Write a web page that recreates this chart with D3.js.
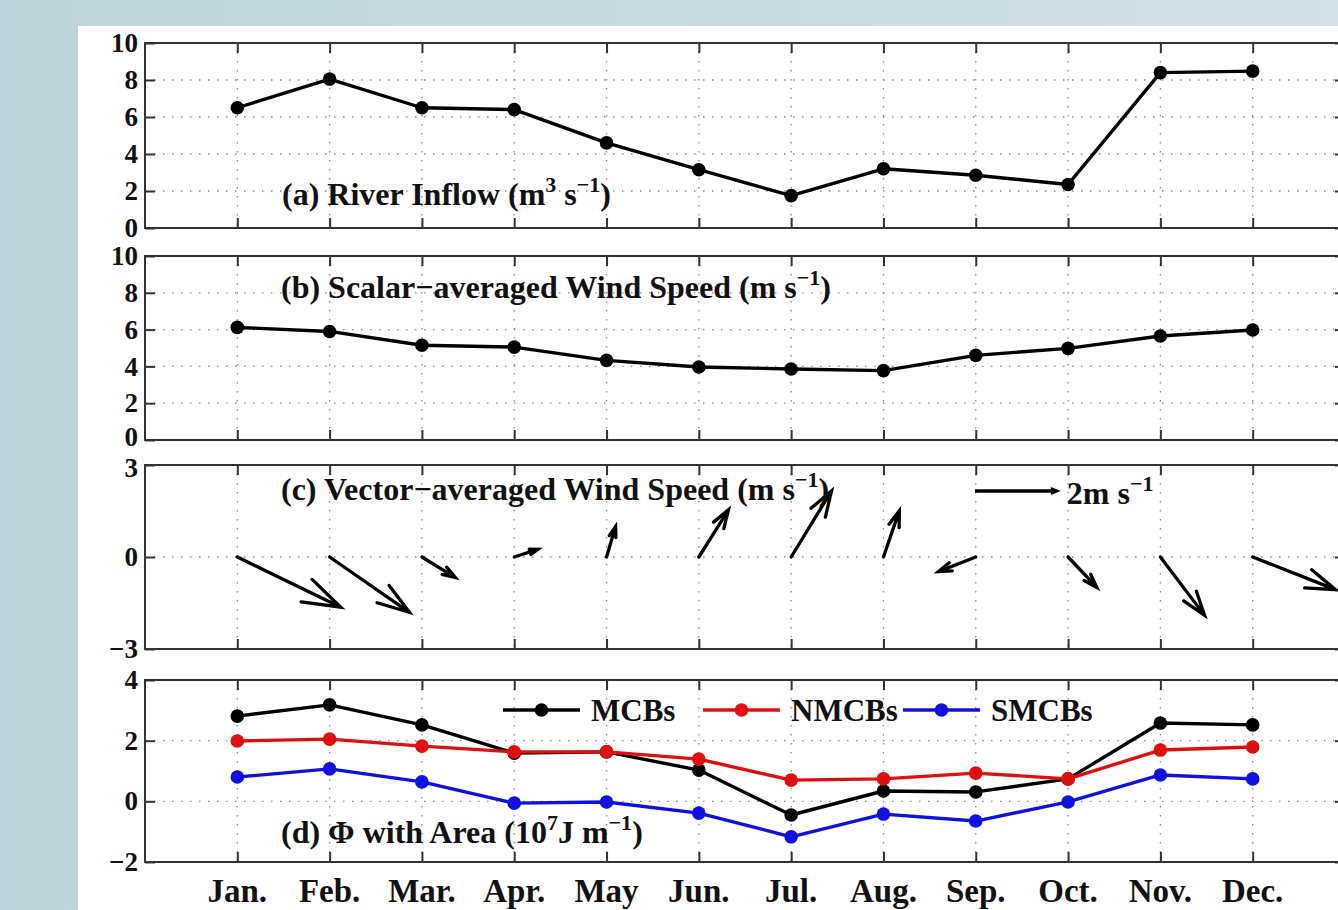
<!DOCTYPE html>
<html><head><meta charset="utf-8">
<script src="https://cdn.jsdelivr.net/npm/d3@7"></script>
<style>
html,body{margin:0;padding:0;overflow:hidden;}
svg{display:block;}
text{font-family:"Liberation Serif","Times New Roman",serif;font-weight:bold;fill:#111;}
</style></head>
<body>
<svg id="chart" width="1338" height="910"></svg>
<script>
// ---------------- data ----------------
const months = ["Jan.","Feb.","Mar.","Apr.","May","Jun.","Jul.","Aug.","Sep.","Oct.","Nov.","Dec."];
const riverInflow = [6.5, 8.05, 6.5, 6.4, 4.6, 3.15, 1.75, 3.2, 2.85, 2.35, 8.4, 8.48];
const scalarWind = [6.12, 5.9, 5.15, 5.05, 4.33, 3.97, 3.86, 3.77, 4.6, 4.98, 5.65, 5.98];
const windU = [2.41, 1.86, 0.78, 0.55, 0.21, 0.69, 0.94, 0.37, -0.87, 0.67, 1.03, 1.93];
const windV = [-1.17, -1.29, -0.48, 0.18, 0.71, 1.10, 1.54, 1.08, -0.34, -0.71, -1.36, -0.76];
const refArrow = 2;
const mcbs  = [2.81, 3.18, 2.52, 1.59, 1.63, 1.03, -0.45, 0.34, 0.31, 0.74, 2.58, 2.52];
const nmcbs = [1.99, 2.05, 1.82, 1.63, 1.63, 1.39, 0.70, 0.74, 0.93, 0.74, 1.69, 1.79];
const smcbs = [0.80, 1.07, 0.64, -0.06, -0.02, -0.39, -1.17, -0.42, -0.65, -0.02, 0.87, 0.74];
const ticksA = [0,2,4,6,8,10];
const ticksB = [0,2,4,6,8,10];
const ticksC = [-3,0,3];
const ticksD = [-2,0,2,4];
const seriesNames = ["MCBs","NMCBs","SMCBs"];
const seriesColors = ["#000000","#e01010","#1010e0"];

// ---------------- layout ----------------
const svg = d3.select("#chart");
const defs = svg.append("defs");
const grad = defs.append("linearGradient").attr("id","bg").attr("x1","0").attr("x2","1").attr("y1","0").attr("y2","0");
grad.append("stop").attr("offset","0").attr("stop-color","#bcd3d9");
grad.append("stop").attr("offset","0.5").attr("stop-color","#c8dbe0");
grad.append("stop").attr("offset","1").attr("stop-color","#d2e1e5");
svg.append("rect").attr("width",1338).attr("height",910).attr("fill","url(#bg)");
svg.append("rect").attr("x",78).attr("y",26).attr("width",1260).attr("height",884).attr("fill","#fff");

const x = d3.scaleLinear().domain([0,13]).range([145,1345]);
const monthIdx = d3.range(1,13);

const panels = [
  {key:"a", domain:[0,10], range:[228,43], ticks:ticksA, grid:[2,4,6,8]},
  {key:"b", domain:[0,10], range:[440,256], ticks:ticksB, grid:[2,4,6,8]},
  {key:"c", domain:[-3,3], range:[649,465], ticks:ticksC, grid:[0]},
  {key:"d", domain:[-2,4], range:[862,680], ticks:ticksD, grid:[0,2]}
];
panels.forEach(p => { p.y = d3.scaleLinear().domain(p.domain).range(p.range); });

function drawFrame(p){
  const g = svg.append("g");
  const y = p.y;
  const top = y(p.domain[1]), bot = y(p.domain[0]);
  g.selectAll(".hg").data(p.grid).enter().append("line")
    .attr("x1",x(0)).attr("x2",x(13)).attr("y1",d=>y(d)).attr("y2",d=>y(d))
    .attr("stroke","#8a8a8a").attr("stroke-width",1.3).attr("stroke-dasharray","1.5,7.5");
  g.selectAll(".vg").data(monthIdx).enter().append("line")
    .attr("x1",d=>x(d)).attr("x2",d=>x(d)).attr("y1",top).attr("y2",bot)
    .attr("stroke","#8a8a8a").attr("stroke-width",1.3).attr("stroke-dasharray","1.5,7.5");
  const left = d3.axisLeft(y).tickValues(p.ticks).tickSizeInner(-10).tickSizeOuter(0).tickPadding(7)
    .tickFormat(d => d < 0 ? "\u2212" + Math.abs(d) : d);
  const ga = g.append("g").attr("transform",`translate(${x(0)},0)`).call(left);
  ga.select(".domain").remove();
  ga.selectAll("line").attr("stroke","#333").attr("stroke-width",2);
  ga.selectAll("text").style("font-size","27px").style("font-family","Liberation Serif").style("font-weight","bold").attr("fill","#111");
  // nudge extreme labels apart slightly where panels touch
  ga.selectAll("text").filter(d => d === p.domain[0] && p.key === "b").attr("dy","0.22em");
  ga.selectAll("text").filter(d => d === p.domain[1] && p.key === "c").attr("dy","0.42em");
  const right = d3.axisRight(y).tickValues(p.ticks).tickSizeInner(-10).tickSizeOuter(0).tickFormat("");
  const gr = g.append("g").attr("transform",`translate(${x(13)},0)`).call(right);
  gr.select(".domain").remove();
  gr.selectAll("line").attr("stroke","#333").attr("stroke-width",2);
  const bottom = d3.axisBottom(x).tickValues(monthIdx).tickSizeInner(-10).tickSizeOuter(0).tickFormat("");
  const gb = g.append("g").attr("transform",`translate(0,${bot})`).call(bottom);
  gb.select(".domain").remove();
  gb.selectAll("line").attr("stroke","#333").attr("stroke-width",2);
  const topAx = d3.axisTop(x).tickValues(monthIdx).tickSizeInner(-10).tickSizeOuter(0).tickFormat("");
  const gt = g.append("g").attr("transform",`translate(0,${top})`).call(topAx);
  gt.select(".domain").remove();
  gt.selectAll("line").attr("stroke","#333").attr("stroke-width",2);
  g.append("rect").attr("x",x(0)).attr("y",top).attr("width",x(13)-x(0)).attr("height",bot-top)
    .attr("fill","none").attr("stroke","#333").attr("stroke-width",2);
  return g;
}
panels.forEach(p => p.g = drawFrame(p));

function supTitle(g, xx, yy, segs, size){
  size = size || 32;
  const supSize = Math.round(size*0.7), rise = Math.round(size*0.4);
  const t = g.append("text").attr("x",xx).attr("y",yy).style("font-size",size+"px");
  let up = false;
  segs.forEach(([s,sup]) => {
    const ts = t.append("tspan").text(s);
    if (sup){ ts.style("font-size",supSize+"px"); if (!up){ ts.attr("dy",-rise); up = true; } }
    else if (up){ ts.attr("dy",rise); up = false; }
  });
  return t;
}

function lineSeries(p, vals, color, r){
  const line = d3.line().x((d,i)=>x(i+1)).y(d=>p.y(d));
  p.g.append("path").datum(vals).attr("d",line).attr("fill","none").attr("stroke",color).attr("stroke-width",3.4).attr("stroke-linejoin","round");
  p.g.selectAll(null).data(vals).enter().append("circle")
    .attr("cx",(d,i)=>x(i+1)).attr("cy",d=>p.y(d)).attr("r",r).attr("fill",color);
}

// (a)
lineSeries(panels[0], riverInflow, "#000", 6.8);
supTitle(panels[0].g, 282, 205, [["(a) River Inflow (m",false],["3",true],[" s",false],["\u22121",true],[")",false]]);
// (b)
lineSeries(panels[1], scalarWind, "#000", 6.8);
supTitle(panels[1].g, 281, 298, [["(b) Scalar\u2212averaged Wind Speed (m s",false],["\u22121",true],[")",false]]);
// (c) quiver
const pc = panels[2];
const pxPerUnit = (x(1)-x(0)) * 0.465;
function arrow(g, x0, y0, u, v, sw){
  const dx = u*pxPerUnit, dy = -v*pxPerUnit;
  const x1 = x0+dx, y1 = y0+dy;
  const a = 0.33, b = 0.33;
  const h1x = x1 - a*(dx + b*dy), h1y = y1 - a*(dy - b*dx);
  const h2x = x1 - a*(dx - b*dy), h2y = y1 - a*(dy + b*dx);
  g.append("path").attr("d",`M${x0},${y0}L${x1},${y1}M${h1x},${h1y}L${x1},${y1}L${h2x},${h2y}`)
    .attr("fill","none").attr("stroke","#000").attr("stroke-width",sw).attr("stroke-linecap","round").attr("stroke-linejoin","miter");
}
windU.forEach((u,i) => arrow(pc.g, x(i+1), pc.y(0), u, windV[i], 3.3));
{
  const x0 = 975, y0 = 491, x1 = x0 + refArrow*pxPerUnit;
  pc.g.append("line").attr("x1",x0).attr("x2",x1-6).attr("y1",y0).attr("y2",y0).attr("stroke","#000").attr("stroke-width",3.4);
  pc.g.append("path").attr("d",`M${x1},${y0}L${x1-10},${y0-4}L${x1-10},${y0+4}Z`).attr("fill","#000");
  supTitle(pc.g, x1+6, 504, [["2m s",false],["\u22121",true]], 32);
}
supTitle(pc.g, 281, 500, [["(c) Vector\u2212averaged Wind Speed (m s",false],["\u22121",true],[")",false]]);

// (d)
const pd = panels[3];
[mcbs, nmcbs, smcbs].forEach((vals,k) => lineSeries(pd, vals, seriesColors[k], 6.8));
supTitle(pd.g, 281, 843, [["(d) \u03A6 with Area (10",false],["7",true],["J m",false],["\u22121",true],[")",false]]);
const legX = [503, 703, 903];
seriesNames.forEach((n,k) => {
  const lg = pd.g.append("g");
  lg.append("line").attr("x1",legX[k]).attr("x2",legX[k]+77).attr("y1",710).attr("y2",710).attr("stroke",seriesColors[k]).attr("stroke-width",3.4);
  lg.append("circle").attr("cx",legX[k]+38.5).attr("cy",710).attr("r",6.8).attr("fill",seriesColors[k]);
  lg.append("text").attr("x",legX[k]+88).attr("y",721).style("font-size","31px").text(n);
});

// month labels
svg.append("g").selectAll("text").data(months).enter().append("text")
  .attr("x",(d,i)=>x(i+1)).attr("y",902).attr("text-anchor","middle").style("font-size","33px").text(d=>d);
</script>
</body></html>
